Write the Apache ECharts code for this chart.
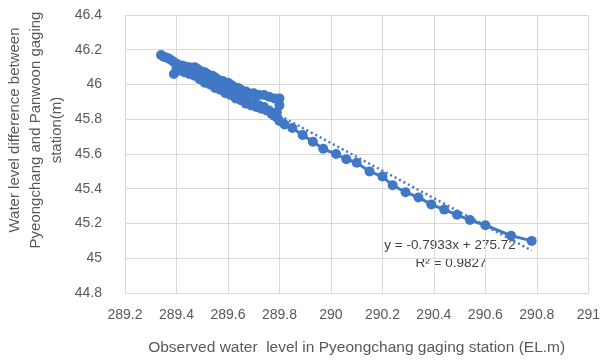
<!DOCTYPE html>
<html>
<head>
<meta charset="utf-8">
<script src="https://cdn.jsdelivr.net/npm/echarts@6/dist/echarts.min.js"></script>
<style>
  html, body { margin: 0; padding: 0; background: #fff; }
  #chart { width: 603px; height: 361px; }
</style>
</head>
<body>
<div id="chart"></div>
<script>
// observed level at Pyeongchang (EL.m)
var obsLevel = [
  289.34, 289.35, 289.36, 289.37, 289.38, 289.39, 289.40, 289.41, 289.42, 289.43,
  289.44, 289.45, 289.46, 289.47, 289.48, 289.49, 289.50, 289.51, 289.52, 289.53,
  289.54, 289.55, 289.56, 289.57, 289.58, 289.59, 289.60, 289.61, 289.62, 289.63,
  289.64, 289.65, 289.66, 289.67, 289.68, 289.70, 289.72, 289.74, 289.76, 289.78,
  289.80, 289.80, 289.79, 289.79,
  289.77, 289.75, 289.73, 289.71, 289.69, 289.67, 289.65, 289.63, 289.61, 289.59,
  289.57, 289.55, 289.53, 289.51, 289.49, 289.47, 289.45, 289.43, 289.41, 289.39,
  289.40, 289.42, 289.46, 289.50, 289.54, 289.58, 289.62, 289.66, 289.70, 289.72,
  289.74, 289.76, 289.78, 289.80,
  289.82, 289.85, 289.89, 289.93, 289.97, 290.02, 290.06, 290.10, 290.15, 290.20,
  290.24, 290.29, 290.34, 290.39, 290.44, 290.49, 290.54, 290.60, 290.70, 290.78
];
// level difference Pyeongchang - Panwoon (m)
var levelDiff = [
  46.17, 46.16, 46.155, 46.15, 46.14, 46.13, 46.12, 46.11, 46.11, 46.105,
  46.10, 46.10, 46.095, 46.10, 46.09, 46.08, 46.07, 46.07, 46.06, 46.05,
  46.05, 46.04, 46.03, 46.02, 46.02, 46.01, 46.01, 46.00, 45.99, 45.98,
  45.98, 45.97, 45.96, 45.96, 45.95, 45.95, 45.94, 45.94, 45.93, 45.92,
  45.92, 45.88, 45.84, 45.81,
  45.83, 45.85, 45.86, 45.87, 45.88, 45.89, 45.91, 45.92, 45.94, 45.95,
  45.97, 45.98, 46.00, 46.01, 46.03, 46.05, 46.06, 46.07, 46.08, 46.06,
  46.09, 46.10, 46.08, 46.05, 46.03, 45.99, 45.96, 45.93, 45.90, 45.88,
  45.87, 45.85, 45.82, 45.79,
  45.77, 45.75, 45.71, 45.67, 45.63, 45.60, 45.57, 45.55, 45.50, 45.47,
  45.42, 45.38, 45.35, 45.31, 45.28, 45.25, 45.22, 45.19, 45.13, 45.10
];

// linear trendline from the chart
var slope = -0.7933;
var intercept = 275.72;
var rSquared = 0.9827;

var xMin = 289.2, xMax = 291, xStep = 0.2;
var yMin = 44.8, yMax = 46.4, yStep = 0.2;

var blue = '#4078c6';
var grey = '#595959';
var font = 'Liberation Sans';

var points = obsLevel.map(function (x, i) { return [x, levelDiff[i]]; });
var x0 = Math.min.apply(null, obsLevel);
var x1 = Math.max.apply(null, obsLevel);
var trend = [[x0, slope * x0 + intercept], [x1, slope * x1 + intercept]];

var chart = echarts.init(document.getElementById('chart'));
chart.setOption({
  backgroundColor: '#fff',
  animation: false,
  grid: { left: 125, right: 11, top: 15, bottom: 68 },
  xAxis: {
    type: 'value', min: xMin, max: xMax, interval: xStep,
    axisLine: { show: false },
    axisTick: { show: false },
    splitLine: { show: true, lineStyle: { color: '#d9d9d9', width: 1 } },
    axisLabel: {
      color: grey, fontSize: 14, fontFamily: font, margin: 15,
      formatter: function (v) { return +v.toFixed(1) + ''; }
    },
    name: 'Observed water  level in Pyeongchang gaging station (EL.m)',
    nameLocation: 'middle', nameGap: 47,
    nameTextStyle: { color: grey, fontSize: 15.5, fontFamily: font }
  },
  yAxis: {
    type: 'value', min: yMin, max: yMax, interval: yStep,
    axisLine: { show: false },
    axisTick: { show: false },
    splitLine: { show: true, lineStyle: { color: '#d9d9d9', width: 1 } },
    axisLabel: {
      color: grey, fontSize: 14, fontFamily: font, margin: 23,
      formatter: function (v) { return +v.toFixed(1) + ''; }
    }
  },
  graphic: [
    {
      type: 'text', x: 36, y: 130, rotation: Math.PI / 2,
      style: {
        text: 'Water level difference between\nPyeongchang and Panwoon gaging\nstation(m)',
        fill: grey, font: '15px "' + font + '"',
        align: 'center', verticalAlign: 'middle', lineHeight: 21
      }
    },
    {
      type: 'text', x: 450, y: 245,
      style: {
        text: 'y = ' + slope + 'x + ' + intercept,
        fill: '#404040', font: '13.5px "' + font + '"',
        align: 'center', verticalAlign: 'middle'
      }
    },
    {
      type: 'text', x: 451, y: 263,
      style: {
        text: 'R² = ' + rSquared,
        fill: '#404040', font: '13.5px "' + font + '"',
        align: 'center', verticalAlign: 'middle'
      }
    }
  ],
  series: [
    {
      type: 'line',
      data: points,
      symbol: 'circle',
      symbolSize: 10,
      showAllSymbol: true,
      itemStyle: { color: blue },
      lineStyle: { color: blue, width: 3 },
      z: 3
    },
    {
      type: 'line',
      data: trend,
      symbol: 'none',
      lineStyle: { color: blue, width: 2.5, type: [2, 3] },
      z: 2
    }
  ]
});
</script>
</body>
</html>
